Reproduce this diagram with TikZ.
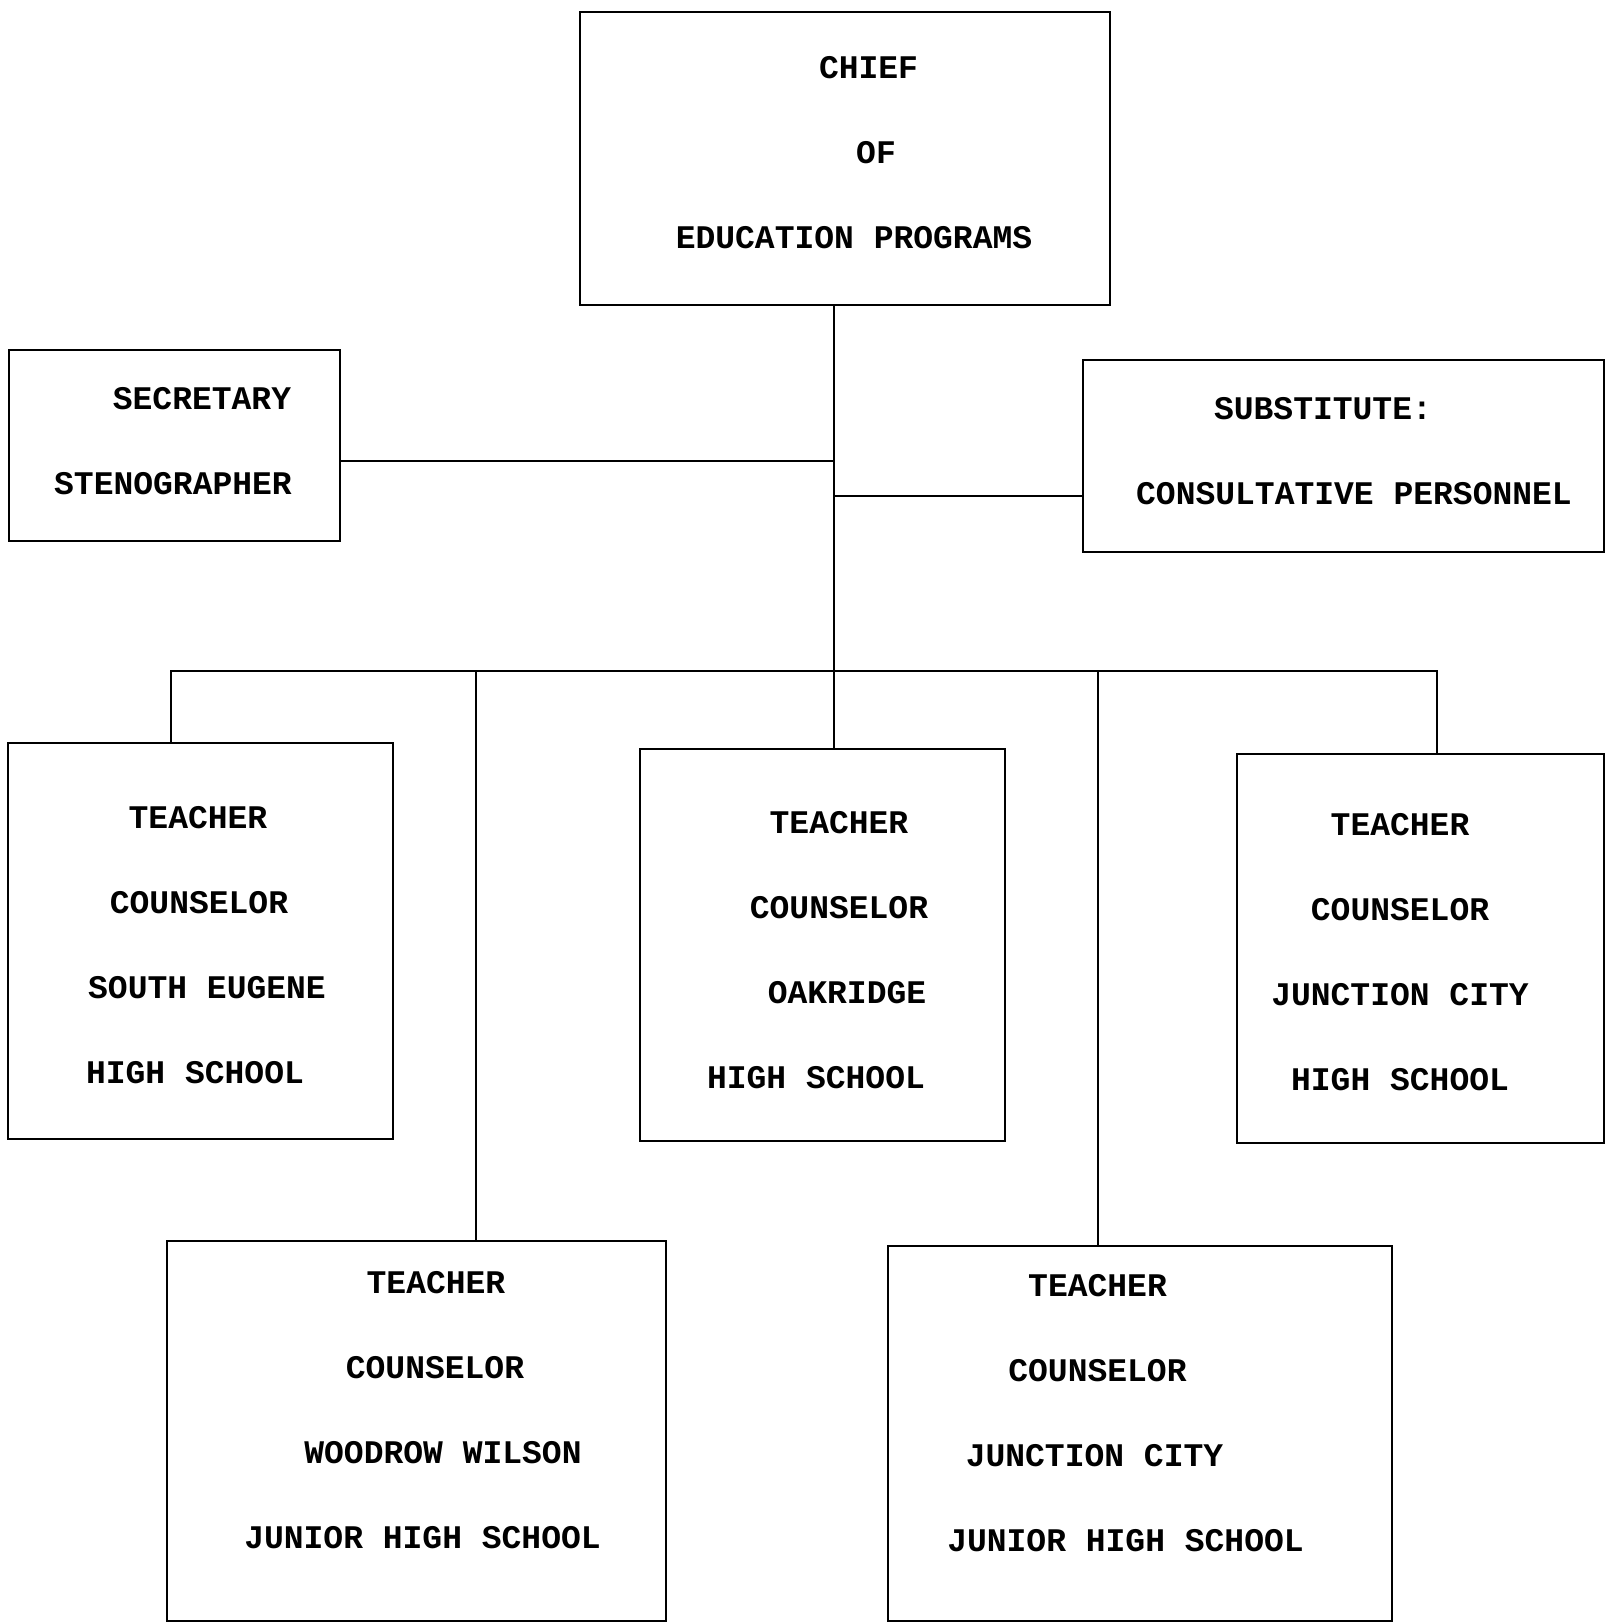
\documentclass[tikz,border=0pt]{standalone}
\usepackage{fontspec}
\setmonofont{Liberation Mono}
\usepackage{tikz}

\begin{document}
\begin{tikzpicture}[x=1pt,y=-1pt,line width=2.4pt,
		box/.style={draw,rectangle,inner sep=0pt,outer sep=0pt},
		lbl/.style={align=center,inner sep=0pt,font=\ttfamily\bfseries\fontsize{33}{85}\selectfont}]
			\path[fill=white,use as bounding box] (0,0) rectangle (1606,1624);
			% boxes
			\node[box,minimum width=530pt,minimum height=293pt] (chief) at (845,158.5) {};
			\node[box,minimum width=331pt,minimum height=191pt] (sec) at (174.5,445.5) {};
			\node[box,minimum width=521pt,minimum height=192pt] (sub) at (1343.5,456) {};
			\node[box,minimum width=385pt,minimum height=396pt] (se) at (200.5,941) {};
			\node[box,minimum width=365pt,minimum height=392pt] (oak) at (822.5,945) {};
			\node[box,minimum width=367pt,minimum height=389pt] (jchs) at (1420.5,948.5) {};
			\node[box,minimum width=499pt,minimum height=380pt] (ww) at (416.5,1431) {};
			\node[box,minimum width=504pt,minimum height=375pt] (jcjhs) at (1140,1433.5) {};
			% texts (typed lines are not quite centred)
			\node[lbl] (chieft) at (854,153) {\hspace*{29pt}CHIEF\\\hspace*{44pt}OF\\EDUCATION PROGRAMS};
			\node[lbl] (sect) at (173,441) {\hspace*{58pt}SECRETARY\\STENOGRAPHER};
			\node[lbl] (subt) at (1354,451) {SUBSTITUTE:\hspace*{62pt}\mbox{}\\CONSULTATIVE PERSONNEL};
			\node[lbl] (set) at (207,945) {TEACHER\hspace*{18pt}\mbox{}\\COUNSELOR\hspace*{16pt}\mbox{}\\SOUTH EUGENE\\HIGH SCHOOL\hspace*{24pt}\mbox{}};
			\node[lbl] (oakt) at (816,950) {\hspace*{46pt}TEACHER\\\hspace*{46pt}COUNSELOR\\\hspace*{62pt}OAKRIDGE\\HIGH SCHOOL};
			\node[lbl] (jchst) at (1400,952) {TEACHER\\COUNSELOR\\JUNCTION CITY\\HIGH SCHOOL};
			\node[lbl] (wwt) at (422.5,1410) {\hspace*{27pt}TEACHER\\\hspace*{25pt}COUNSELOR\\\hspace*{41pt}WOODROW WILSON\\JUNIOR HIGH SCHOOL};
			\node[lbl] (jcjhst) at (1125.5,1413) {TEACHER\hspace*{56pt}\mbox{}\\COUNSELOR\hspace*{56pt}\mbox{}\\JUNCTION CITY\hspace*{62pt}\mbox{}\\JUNIOR HIGH SCHOOL};
			% joints
			\coordinate (trunk) at (834,0);
			\coordinate (secj) at (834,461);
			\coordinate (subj) at (834,496);
			\coordinate (busl) at (171,671);
			\coordinate (busr) at (1437,671);
			\coordinate (wwj) at (476,671);
			\coordinate (jcj) at (1098,671);
			% lines
			\draw (chief.south -| trunk) -- (oak.north -| trunk);
			\draw (sec.east |- secj) -- (secj);
			\draw (subj) -- (sub.west |- subj);
			\draw (se.north -| busl) -- (busl) -- (busr) -- (jchs.north -| busr);
			\draw (wwj) -- (ww.north -| wwj);
			\draw (jcj) -- (jcjhs.north -| jcj);
		\end{tikzpicture}
\end{document}
